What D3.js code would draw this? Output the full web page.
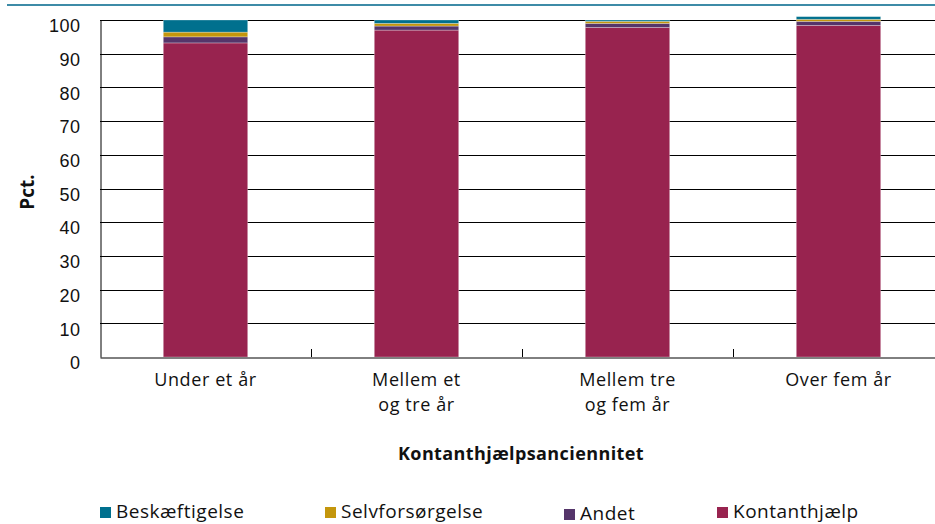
<!DOCTYPE html>
<html>
<head>
<meta charset="utf-8">
<script src="https://cdn.jsdelivr.net/npm/d3@7"></script>
<style>
  html, body { margin: 0; padding: 0; background: #fff; }
  svg { display: block; font-family: "Open Sans", sans-serif; }
</style>
</head>
<body>
<svg id="chart" width="935" height="524"></svg>
<script>
const categories = ["Under et år", "Mellem et|og tre år", "Mellem tre|og fem år", "Over fem år"];
const seriesNames = ["Kontanthjælp", "Andet", "Selvforsørgelse", "Beskæftigelse"];
const kontanthjaelp = [93.2, 97.0, 97.8, 98.4];
const andet = [1.8, 1.2, 1.2, 1.2];
const selvforsorgelse = [1.4, 0.8, 0.6, 0.6];
const beskaeftigelse = [3.6, 1.0, 0.4, 0.8];
const yTicks = [0, 10, 20, 30, 40, 50, 60, 70, 80, 90, 100];
const legendOrder = ["Beskæftigelse", "Selvforsørgelse", "Andet", "Kontanthjælp"];
const colors = {
  "Kontanthjælp": "#98234f",
  "Andet": "#55356a",
  "Selvforsørgelse": "#c4960c",
  "Beskæftigelse": "#00708e"
};

const seriesValues = {
  "Kontanthjælp": kontanthjaelp,
  "Andet": andet,
  "Selvforsørgelse": selvforsorgelse,
  "Beskæftigelse": beskaeftigelse
};
const table = categories.map((c, i) => {
  const row = { cat: c };
  seriesNames.forEach(s => row[s] = seriesValues[s][i]);
  return row;
});

const svg = d3.select("#chart");
const mLeft = 100, mRight = 944, mTop = 20, mBottom = 357;

const x = d3.scaleBand().domain(categories).range([mLeft, mRight]).paddingInner(0.6).paddingOuter(0.3);
const xBand = d3.scaleBand().domain(categories).range([mLeft, mRight]);
const y = d3.scaleLinear().domain([0, 100]).range([mBottom, mTop]);

// top rule
svg.append("line").attr("x1", 7).attr("x2", 935).attr("y1", 5).attr("y2", 5)
  .attr("stroke", "#3d8ba7").attr("stroke-width", 2);

// gridlines
svg.append("g").selectAll("line").data(yTicks.filter(d => d > 0)).join("line")
  .attr("x1", mLeft).attr("x2", 935)
  .attr("y1", d => Math.round(y(d)) + 0.5).attr("y2", d => Math.round(y(d)) + 0.5)
  .attr("stroke", "#000").attr("stroke-width", 1);

// stacked bars
const stack = d3.stack().keys(seriesNames)(table);
svg.append("g").selectAll("g").data(stack).join("g")
  .attr("fill", d => colors[d.key])
  .selectAll("rect").data(d => d).join("rect")
  .attr("x", d => x(d.data.cat))
  .attr("width", x.bandwidth())
  .attr("y", d => y(d[1]))
  .attr("height", d => y(d[0]) - y(d[1]))
  .attr("stroke", "#fff").attr("stroke-opacity", 0.35).attr("stroke-width", 0.8);

// y axis
const yAxis = d3.axisLeft(y).tickValues(yTicks).tickSize(0).tickPadding(20);
const gy = svg.append("g").attr("transform", `translate(${mLeft + 0.5},0)`).call(yAxis);
gy.select(".domain").attr("stroke", "#000");
gy.selectAll("text").attr("font-size", 18).attr("fill", "#111")
  .attr("dy", "0.65em")
  .style("letter-spacing", "0.5px")
  .style("font-variant-numeric", "oldstyle-nums");

// x axis
const xAxis = d3.axisBottom(xBand).tickSize(0).tickFormat("");
const gx = svg.append("g").attr("transform", `translate(0,${mBottom + 0.5})`).call(xAxis);
gx.select(".domain").attr("stroke", "#000");
gx.selectAll(".tick").remove();
// category boundary ticks (inside)
svg.append("g").selectAll("line").data(categories.slice(1)).join("line")
  .attr("x1", d => Math.round(xBand(d)) + 0.5).attr("x2", d => Math.round(xBand(d)) + 0.5)
  .attr("y1", mBottom - 8).attr("y2", mBottom)
  .attr("stroke", "#000");

// category labels
const labels = svg.append("g").selectAll("text").data(categories).join("text")
  .attr("x", d => xBand(d) + xBand.bandwidth() / 2)
  .attr("y", 386)
  .attr("text-anchor", "middle")
  .attr("font-size", 18).attr("fill", "#111")
  .style("letter-spacing", "0.6px");
labels.each(function(d) {
  const parts = d.split("|");
  d3.select(this).selectAll("tspan").data(parts).join("tspan")
    .attr("x", xBand(d) + xBand.bandwidth() / 2)
    .attr("dy", (p, i) => i === 0 ? 0 : 25)
    .text(p => p);
});

// axis titles
svg.append("text").attr("x", 521).attr("y", 460).attr("text-anchor", "middle")
  .attr("font-size", 18).attr("font-weight", "bold").attr("fill", "#111")
  .style("letter-spacing", "0.4px")
  .text("Kontanthjælpsanciennitet");
svg.append("text").attr("transform", "translate(34,192) rotate(-90)").attr("text-anchor", "middle")
  .attr("font-size", 19).attr("font-weight", "bold").attr("fill", "#111")
  .text("Pct.");

// legend
const legendX = [100, 325, 564, 717];
const legendY = [507, 507, 509, 507];
const lg = svg.append("g").selectAll("g").data(legendOrder).join("g")
  .attr("transform", (d, i) => `translate(${legendX[i]},${legendY[i]})`);
lg.append("rect").attr("width", 11).attr("height", 11).attr("fill", d => colors[d]);
lg.append("text").attr("x", 16).attr("y", 10.5).attr("font-size", 19).attr("fill", "#111")
  .style("letter-spacing", "0.5px")
  .text(d => d);
</script>
</body>
</html>
